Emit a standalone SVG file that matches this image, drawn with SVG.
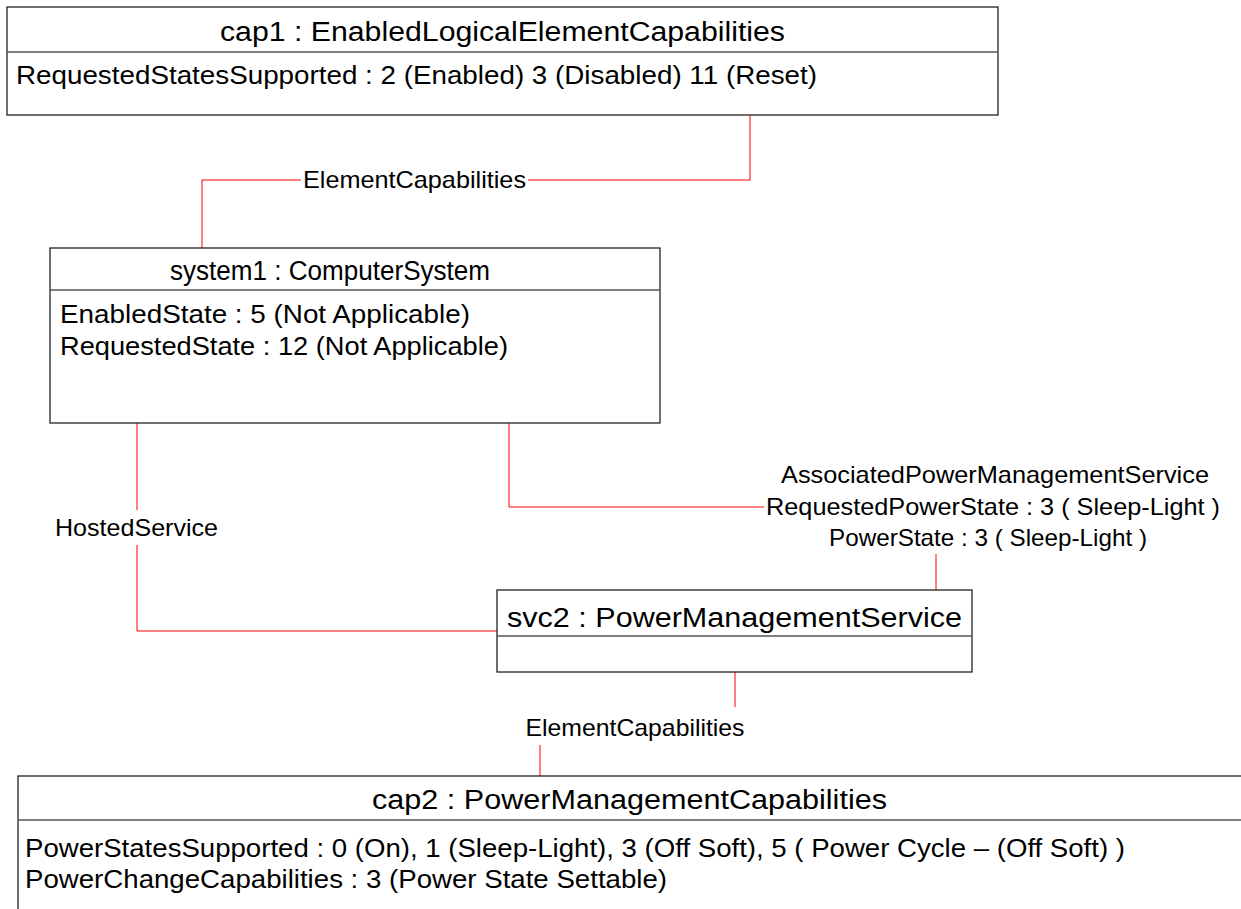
<svg xmlns="http://www.w3.org/2000/svg" width="1241" height="909" viewBox="0 0 1241 909">
<style>
.box{fill:#fff;stroke:#222;stroke-width:1.3}
.div{stroke:#555;stroke-width:1.3}
.t{font-family:"Liberation Sans",Arial,sans-serif;font-size:25px;fill:#000}
.h{font-size:27px}
.a{font-size:26px}
.l{font-size:24px}
.c{text-anchor:middle}
.conn{fill:none;stroke:#f00;stroke-width:1}
</style>
<rect width="1241" height="909" fill="#fff"/>
<g id="connectors">
<path class="conn" d="M750,115 V180 H528 M301,180 H202 V248"/>
<path class="conn" d="M137,423 V510 M137,545 V631 H497"/>
<path class="conn" d="M509,423 V507 H764 M936,554 V590"/>
<path class="conn" d="M735,672 V707 M540,745 V776"/>
<text class="t l" x="303" y="188" textLength="223" lengthAdjust="spacingAndGlyphs">ElementCapabilities</text>
<text class="t l c" x="136.5" y="536" textLength="163" lengthAdjust="spacingAndGlyphs">HostedService</text>
<text class="t l c" x="995" y="483" textLength="428" lengthAdjust="spacingAndGlyphs">AssociatedPowerManagementService</text>
<text class="t l c" x="993" y="515" textLength="454" lengthAdjust="spacingAndGlyphs">RequestedPowerState : 3 ( Sleep-Light )</text>
<text class="t l c" x="988" y="546" textLength="318" lengthAdjust="spacingAndGlyphs">PowerState : 3 ( Sleep-Light )</text>
<text class="t l c" x="635" y="736" textLength="219" lengthAdjust="spacingAndGlyphs">ElementCapabilities</text>
</g>
<g id="cap1">
<rect class="box" x="7" y="7" width="991" height="108"/>
<line class="div" x1="7" y1="52" x2="998" y2="52"/>
<text class="t h" x="502.5" y="41" textLength="565" lengthAdjust="spacingAndGlyphs" text-anchor="middle">cap1 : EnabledLogicalElementCapabilities</text>
<text class="t a" x="16" y="84" textLength="801" lengthAdjust="spacingAndGlyphs">RequestedStatesSupported : 2 (Enabled) 3 (Disabled) 11 (Reset)</text>
</g>
<g id="system1">
<rect class="box" x="50" y="248" width="610" height="175"/>
<line class="div" x1="50" y1="290" x2="660" y2="290"/>
<text class="t h" x="330" y="280" textLength="320" lengthAdjust="spacingAndGlyphs" text-anchor="middle">system1 : ComputerSystem</text>
<text class="t a" x="60" y="323" textLength="410" lengthAdjust="spacingAndGlyphs">EnabledState : 5 (Not Applicable)</text>
<text class="t a" x="60" y="355" textLength="448" lengthAdjust="spacingAndGlyphs">RequestedState : 12 (Not Applicable)</text>
</g>
<g id="svc2">
<rect class="box" x="497" y="590" width="475" height="82"/>
<line class="div" x1="497" y1="636" x2="972" y2="636"/>
<text class="t h" x="734.5" y="627" textLength="455" lengthAdjust="spacingAndGlyphs" text-anchor="middle">svc2 : PowerManagementService</text>
</g>
<g id="cap2">
<rect class="box" x="18" y="776" width="1240" height="200"/>
<line class="div" x1="18" y1="820" x2="1241" y2="820"/>
<text class="t h" x="629.5" y="809" textLength="515" lengthAdjust="spacingAndGlyphs" text-anchor="middle">cap2 : PowerManagementCapabilities</text>
<text class="t a" x="25" y="857" textLength="1100" lengthAdjust="spacingAndGlyphs">PowerStatesSupported : 0 (On), 1 (Sleep-Light), 3 (Off Soft), 5 ( Power Cycle – (Off Soft) )</text>
<text class="t a" x="25" y="888" textLength="642" lengthAdjust="spacingAndGlyphs">PowerChangeCapabilities : 3 (Power State Settable)</text>
</g>
</svg>
